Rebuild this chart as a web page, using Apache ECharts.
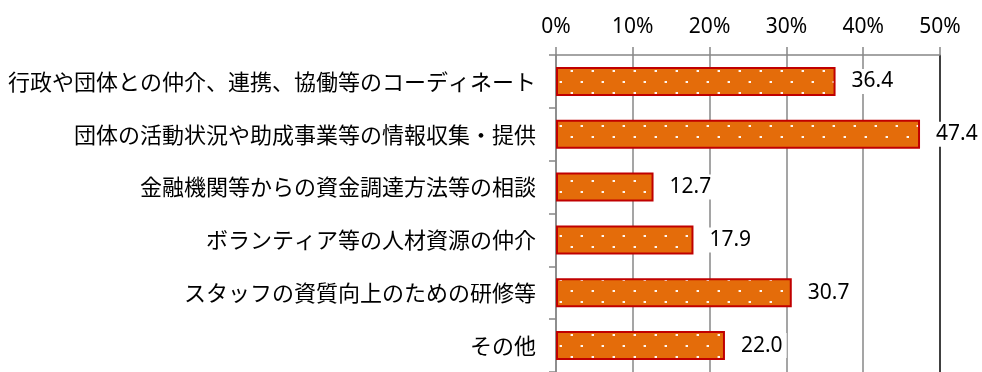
<!DOCTYPE html>
<html>
<head>
<meta charset="utf-8">
<script src="https://cdn.jsdelivr.net/npm/echarts@6/dist/echarts.min.js"></script>
<style>
  html, body { margin: 0; padding: 0; background: #fff; }
  #chart { width: 982px; height: 372px; }
</style>
</head>
<body>
<div id="chart"></div>
<script>
// 項目
var categories = [
  '行政や団体との仲介、連携、協働等のコーディネート',
  '団体の活動状況や助成事業等の情報収集・提供',
  '金融機関等からの資金調達方法等の相談',
  'ボランティア等の人材資源の仲介',
  'スタッフの資質向上のための研修等',
  'その他'
];
// 割合(%)
var values = [36.4, 47.4, 12.7, 17.9, 30.7, 22.0];
var tickLabels = ['0%', '10%', '20%', '30%', '40%', '50%'];

// dotted orange fill
function makePattern() {
  var c = document.createElement('canvas');
  c.width = 21;
  c.height = 22;
  var ctx = c.getContext('2d');
  ctx.fillStyle = '#E46C0A';
  ctx.fillRect(0, 0, 21, 22);
  ctx.fillStyle = 'rgba(255,255,255,0.95)';
  ctx.fillRect(4, 4, 2, 2);
  ctx.fillRect(14, 15, 2, 2);
  ctx.fillStyle = 'rgba(255,255,255,0.4)';
  ctx.fillRect(3, 4, 1, 2);
  ctx.fillRect(13, 15, 1, 2);
  return c;
}

var chart = echarts.init(document.getElementById('chart'));

var option = {
  backgroundColor: '#fff',
  animation: false,
  grid: {
    left: 556,
    right: 42,
    top: 55,
    height: 322
  },
  xAxis: {
    type: 'value',
    position: 'top',
    min: 0,
    max: 50,
    interval: 10,
    axisLine: { show: true, lineStyle: { color: '#878787', width: 1.5 } },
    axisTick: { show: true, length: 8, lineStyle: { color: '#878787', width: 1.5 } },
    axisLabel: {
      margin: 17,
      fontSize: 21,
      fontFamily: 'Noto Sans',
      color: '#000',
      formatter: function (v) { return tickLabels[Math.round(v / 10)]; }
    },
    splitLine: {
      show: true,
      lineStyle: {
        color: ['#878787', '#878787', '#878787', '#878787', '#878787', '#000'],
        width: 1.5
      }
    }
  },
  yAxis: {
    type: 'category',
    inverse: true,
    data: categories,
    axisLine: { show: true, lineStyle: { color: '#878787', width: 1.5 } },
    axisTick: { show: true, length: 7, alignWithLabel: false, lineStyle: { color: '#878787', width: 1.5 } },
    axisLabel: {
      margin: 20,
      fontSize: 22,
      fontFamily: 'Noto Sans CJK JP',
      color: '#000'
    },
    splitLine: { show: false }
  },
  series: [
    {
      type: 'bar',
      data: values,
      barWidth: 29,
      itemStyle: {
        color: { image: makePattern(), repeat: 'repeat' },
        borderColor: '#C00000',
        borderWidth: 2
      },
      label: {
        show: true,
        position: 'right',
        distance: 12,
        fontSize: 21,
        fontFamily: 'Noto Sans',
        color: '#000',
        backgroundColor: '#fff',
        padding: [2, 4],
        formatter: function (p) { return p.value.toFixed(1); }
      }
    }
  ]
};

chart.setOption(option);
</script>
</body>
</html>
